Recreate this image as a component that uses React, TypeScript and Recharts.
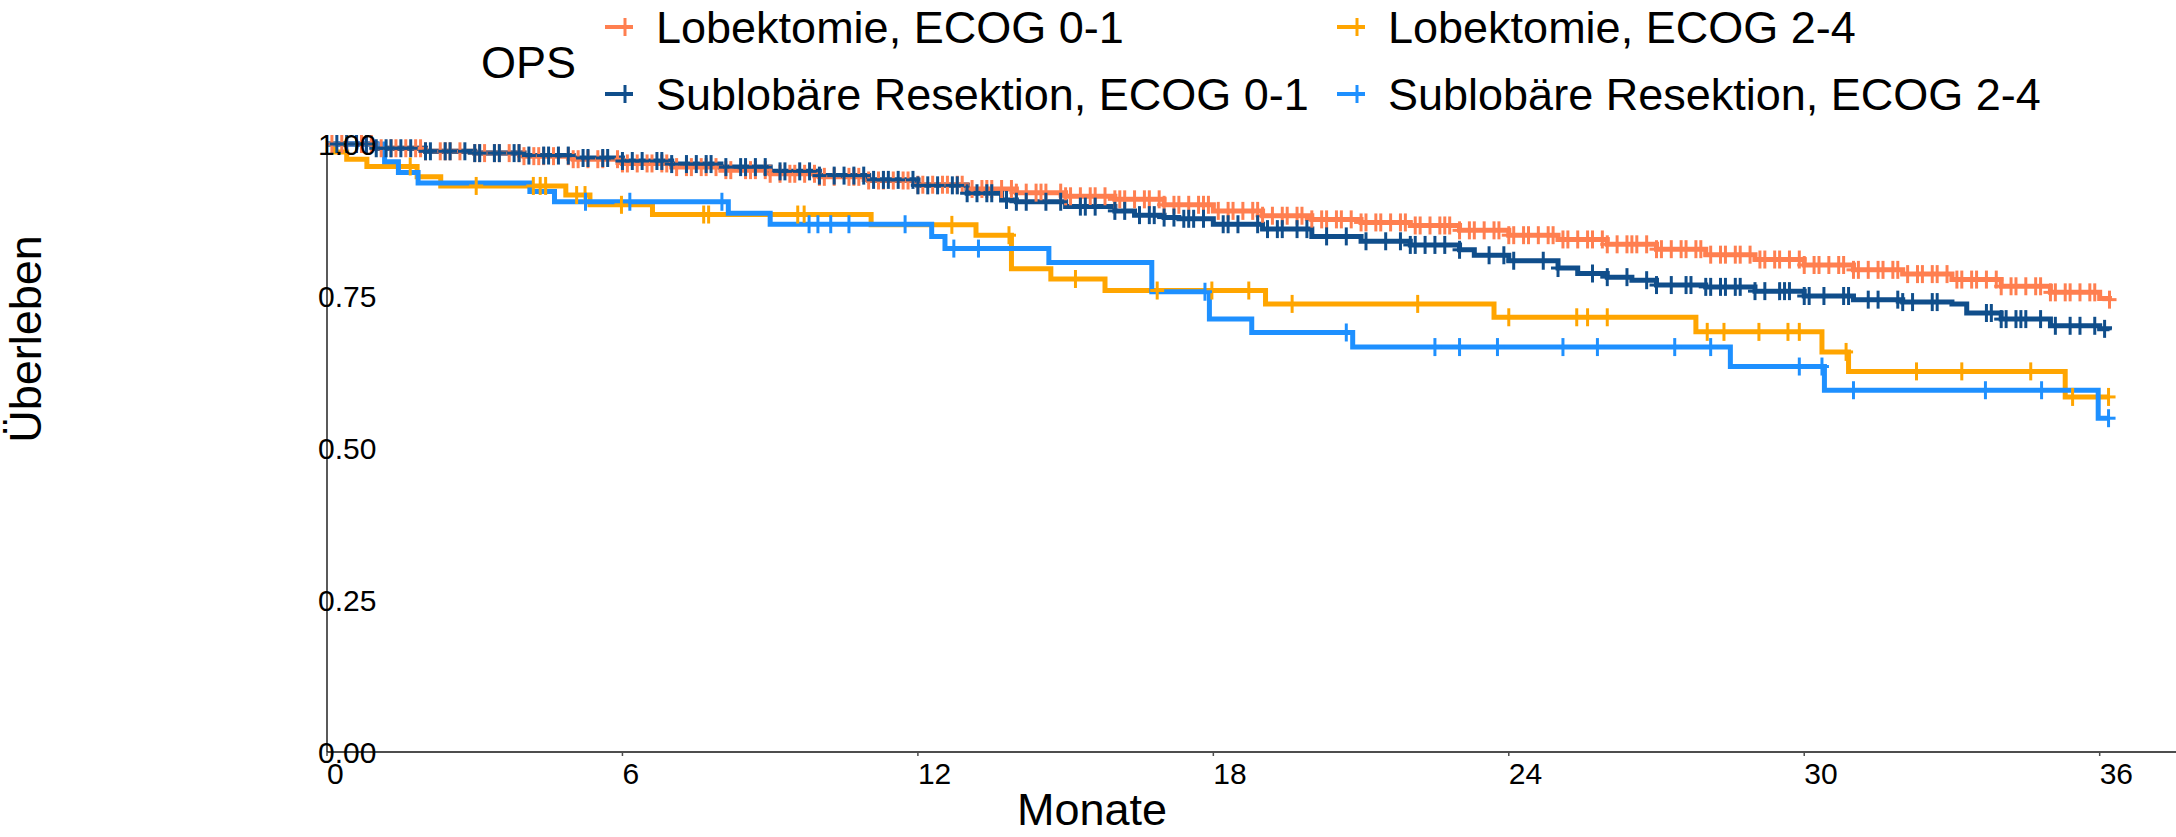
import React from "react";
import { ComposedChart, Line, Scatter, XAxis, YAxis } from "recharts";

// Kaplan-Meier Stufen (Monat, Überleben)
const lobEcog01 = [
  [0, 1.0], [1, 0.993], [2, 0.988], [3, 0.985], [4, 0.98], [5, 0.975], [6, 0.968],
  [7, 0.962], [8, 0.957], [9, 0.951], [10, 0.946], [11, 0.94], [12, 0.933], [13, 0.926],
  [14, 0.92], [15, 0.914], [16, 0.909], [17, 0.9], [18, 0.89], [19, 0.882], [20, 0.876],
  [21, 0.871], [22, 0.866], [23, 0.858], [24, 0.85], [25, 0.843], [26, 0.835], [27, 0.827],
  [28, 0.818], [29, 0.81], [30, 0.801], [31, 0.793], [32, 0.786], [33, 0.777], [34, 0.766],
  [35, 0.756], [36, 0.746], [36.2, 0.744],
];
const subEcog01 = [
  [0, 1.0], [1, 0.993], [2, 0.988], [3, 0.985], [4, 0.981], [5, 0.977], [6, 0.972],
  [7, 0.967], [8, 0.962], [9, 0.955], [10, 0.948], [11, 0.941], [12, 0.932], [13, 0.919],
  [13.7, 0.908], [14, 0.905], [15, 0.897], [16, 0.89], [16.4, 0.883], [17, 0.879],
  [17.3, 0.877], [18, 0.868], [19, 0.86], [20, 0.848], [21, 0.84], [22, 0.834], [23, 0.826],
  [23.3, 0.817], [24, 0.808], [25, 0.796], [25.4, 0.787], [26, 0.781], [26.5, 0.776],
  [27, 0.768], [28, 0.765], [29, 0.758], [30, 0.75], [31, 0.744], [32, 0.74], [33, 0.737],
  [33.3, 0.722], [34, 0.712], [35, 0.701], [36, 0.696], [36.2, 0.695],
];
const lobEcog24 = [
  [0, 1.0], [0.15, 0.987], [0.4, 0.975], [0.81, 0.963], [1.83, 0.946], [2.31, 0.931],
  [4.85, 0.916], [5.34, 0.9], [6.61, 0.884], [11.05, 0.867], [13.18, 0.85], [13.9, 0.795],
  [14.7, 0.778], [15.8, 0.759], [19.06, 0.737], [23.7, 0.715], [27.8, 0.691], [30.36, 0.658],
  [30.9, 0.626], [35.3, 0.584], [36.18, 0.584],
];
const subEcog24 = [
  [0, 1.0], [1.17, 0.971], [1.45, 0.953], [1.85, 0.936], [4.12, 0.922], [4.62, 0.905],
  [8.15, 0.886], [9.0, 0.868], [12.28, 0.848], [12.55, 0.828], [14.66, 0.805],
  [16.75, 0.757], [17.92, 0.712], [18.78, 0.69], [20.83, 0.666], [28.5, 0.634],
  [30.41, 0.595], [35.97, 0.549], [36.18, 0.549],
];

// zensierte Fälle (Monat)
const lobEcog01Cens = [
  0.1, 0.3, 0.4, 0.7, 0.8, 0.9, 1.1, 1.3, 1.4, 1.6, 1.8, 1.9, 2.0, 2.3, 2.4, 2.5, 2.7, 3.0,
  3.1, 3.2, 3.4, 3.5, 3.7, 3.9, 4.0, 4.2, 4.3, 4.4, 4.6, 4.9, 5.0, 5.1, 5.3, 5.5, 5.6, 5.9,
  6.0, 6.1, 6.3, 6.5, 6.6, 6.8, 6.9, 7.1, 7.3, 7.4, 7.6, 7.7, 7.9, 8.1, 8.2, 8.5, 8.6, 8.7,
  8.9, 9.0, 9.2, 9.4, 9.5, 9.7, 9.9, 10.0, 10.1, 10.3, 10.6, 10.7, 10.8, 11.0, 11.2, 11.3,
  11.5, 11.7, 11.8, 12.0, 12.1, 12.3, 12.5, 12.6, 12.8, 12.9, 13.1, 13.3, 13.4, 13.5, 13.7,
  13.9, 14.0, 14.2, 14.4, 14.5, 14.6, 14.9, 15.0, 15.1, 15.3, 15.5, 15.6, 15.8, 16.0, 16.1,
  16.2, 16.4, 16.6, 16.7, 16.9, 17.0, 17.2, 17.3, 17.5, 17.7, 17.8, 17.9, 18.1, 18.3, 18.4,
  18.6, 18.8, 18.9, 19.0, 19.2, 19.4, 19.5, 19.7, 19.8, 20.0, 20.2, 20.3, 20.5, 20.6, 20.8,
  21.0, 21.1, 21.3, 21.4, 21.6, 21.8, 21.9, 22.1, 22.2, 22.4, 22.6, 22.7, 22.8, 23.0, 23.2,
  23.3, 23.5, 23.7, 23.8, 24.0, 24.1, 24.3, 24.4, 24.6, 24.8, 24.9, 25.1, 25.2, 25.4, 25.6,
  25.7, 25.9, 26.0, 26.2, 26.4, 26.5, 26.6, 26.8, 27.0, 27.1, 27.3, 27.5, 27.6, 27.8, 27.9,
  28.1, 28.3, 28.4, 28.6, 28.7, 28.9, 29.1, 29.2, 29.4, 29.5, 29.7, 29.9, 30.0, 30.2, 30.3,
  30.5, 30.7, 30.8, 31.0, 31.1, 31.3, 31.5, 31.6, 31.8, 31.9, 32.1, 32.3, 32.4, 32.6, 32.7,
  32.9, 33.1, 33.2, 33.4, 33.5, 33.7, 33.9, 34.0, 34.2, 34.3, 34.5, 34.7, 34.8, 35.0, 35.1,
  35.3, 35.4, 35.6, 35.8, 35.9, 36.2,
];
const subEcog01Cens = [
  0.2, 0.4, 0.6, 0.8, 1.0, 1.2, 1.3, 1.5, 1.7, 2.0, 2.1, 2.4, 2.5, 2.8, 3.0, 3.1, 3.4, 3.5,
  3.8, 3.9, 4.1, 4.4, 4.5, 4.7, 4.9, 5.2, 5.3, 5.6, 5.7, 6.0, 6.2, 6.4, 6.7, 6.8, 7.0, 7.3,
  7.5, 7.7, 7.8, 8.1, 8.4, 8.5, 8.7, 8.9, 9.2, 9.3, 9.6, 9.8, 10.0, 10.3, 10.5, 10.7, 10.9,
  11.1, 11.3, 11.4, 11.6, 11.9, 12.0, 12.2, 12.4, 12.7, 12.8, 13.0, 13.2, 13.4, 13.5, 13.8,
  14.0, 14.2, 14.6, 14.9, 15.3, 15.4, 15.6, 16.0, 16.2, 16.5, 16.7, 16.8, 17.0, 17.2, 17.4,
  17.5, 17.6, 17.8, 18.2, 18.3, 18.5, 18.9, 19.1, 19.3, 19.4, 19.7, 19.9, 20.3, 20.7, 21.1,
  21.5, 21.8, 22.0, 22.1, 22.3, 22.5, 22.7, 23.0, 23.6, 23.9, 24.1, 24.7, 25.0, 25.7, 26.0,
  26.4, 26.8, 27.0, 27.3, 27.6, 27.7, 28.0, 28.1, 28.3, 28.4, 28.6, 28.7, 29.0, 29.2, 29.5,
  29.6, 29.7, 30.0, 30.1, 30.4, 30.8, 30.9, 31.3, 31.5, 31.9, 32.0, 32.2, 32.6, 32.7, 33.7,
  33.8, 34.0, 34.1, 34.3, 34.4, 34.5, 34.8, 35.1, 35.4, 35.6, 35.9, 36.1,
];
const lobEcog24Cens = [
  1.69, 3.03, 4.19, 4.33, 4.44, 5.07, 5.24, 5.98, 7.65, 7.75, 9.56, 9.69, 12.69, 13.85,
  15.2, 16.86, 17.97, 18.72, 19.6, 22.15, 24.0, 25.38, 25.6, 26.0, 28.03, 28.37, 29.08,
  29.67, 29.9, 30.85, 32.28, 33.2, 34.6, 35.45, 36.18,
];
const subEcog24Cens = [
  5.25, 6.15, 8.02, 9.79, 9.97, 10.23, 10.6, 11.74, 12.73, 13.23, 17.83, 20.7, 22.5, 23.0,
  23.77, 25.1, 25.8, 27.37, 28.1, 29.9, 30.36, 31.0, 33.68, 34.82, 36.18,
];

const xTicks = [0, 6, 12, 18, 24, 30, 36];
const yTicks = [0, 0.25, 0.5, 0.75, 1];

const FONT = "'Liberation Sans', Arial, Helvetica, sans-serif";

const groups = [
  { name: "Lobektomie, ECOG 0-1", color: "#FF7F50", curve: lobEcog01, cens: lobEcog01Cens },
  { name: "Sublobäre Resektion, ECOG 0-1", color: "#104E8B", curve: subEcog01, cens: subEcog01Cens },
  { name: "Lobektomie, ECOG 2-4", color: "#FFA500", curve: lobEcog24, cens: lobEcog24Cens },
  { name: "Sublobäre Resektion, ECOG 2-4", color: "#1E90FF", curve: subEcog24, cens: subEcog24Cens },
];

const toRows = (curve: number[][]) => curve.map(([t, s]) => ({ t, s }));

// Wert der Stufenfunktion zum Zeitpunkt t
const survAt = (curve: number[][], t: number) => {
  let s = curve[0][1];
  for (const [ct, cs] of curve) if (ct <= t) s = cs;
  return s;
};

const makeCross = (color: string) => (props: any) => {
  const { cx, cy } = props;
  if (cx == null || cy == null) return <g />;
  return (
    <g>
      <line x1={cx - 7} x2={cx + 7} y1={cy} y2={cy} stroke={color} strokeWidth={3} />
      <line x1={cx} x2={cx} y1={cy - 9} y2={cy + 9} stroke={color} strokeWidth={3} />
    </g>
  );
};

const XTick = (props: any) => (
  <text x={props.x} y={784} textAnchor="start" fontSize={30} fontFamily={FONT} fill="#000">
    {props.payload.value}
  </text>
);

const YTick = (props: any) => (
  <text x={318} y={props.y} dy="0.36em" textAnchor="start" fontSize={30} fontFamily={FONT} fill="#000">
    {Number(props.payload.value).toFixed(2)}
  </text>
);

// Legende im ggplot-Stil: 2 Spalten
const legendItems = [
  { g: groups[0], x: 605, y: 27 },
  { g: groups[2], x: 1337, y: 27 },
  { g: groups[1], x: 605, y: 94 },
  { g: groups[3], x: 1337, y: 94 },
];

export default function App() {
  return (
    <div style={{ position: "absolute", left: 0, top: 0, width: 2176, height: 837, background: "#fff" }}>
      <ComposedChart
        width={2176}
        height={837}
        margin={{ top: 144, right: 0, bottom: 55, left: 267 }}
      >
        <XAxis
          dataKey="t"
          type="number"
          domain={[0, 37.55]}
          ticks={xTicks}
          allowDataOverflow
          height={30}
          axisLine={{ stroke: "#4d4d4d", strokeWidth: 2 }}
          tickLine={{ stroke: "#4d4d4d", strokeWidth: 1.5 }}
          tickSize={4}
          tick={<XTick />}
        />
        <YAxis
          type="number"
          domain={[0, 1]}
          ticks={yTicks}
          width={60}
          axisLine={{ stroke: "#000", strokeWidth: 1.3 }}
          tickLine={false}
          tickSize={0}
          tick={<YTick />}
        />
        {groups.map((g) => (
          <Line
            key={g.name}
            data={toRows(g.curve)}
            dataKey="s"
            type="stepAfter"
            stroke={g.color}
            strokeWidth={5}
            dot={false}
            activeDot={false}
            isAnimationActive={false}
          />
        ))}
        {groups.map((g) => (
          <Scatter
            key={g.name + "-c"}
            data={g.cens.map((t) => ({ t, s: survAt(g.curve, t) }))}
            dataKey="s"
            shape={makeCross(g.color)}
            isAnimationActive={false}
          />
        ))}
      </ComposedChart>
      <svg
        width={2176}
        height={837}
        style={{ position: "absolute", left: 0, top: 0, pointerEvents: "none" }}
        fontFamily={FONT}
      >
        <text x={25} y={339} fontSize={45} textAnchor="middle" dominantBaseline="central" transform="rotate(-90 25 339)">
          Überleben
        </text>
        <text x={1092} y={825} fontSize={45} textAnchor="middle">
          Monate
        </text>
        <text x={481} y={78} fontSize={45}>
          OPS
        </text>
        {legendItems.map(({ g, x, y }) => (
          <g key={g.name}>
            <line x1={x} x2={x + 28} y1={y} y2={y} stroke={g.color} strokeWidth={4} />
            <line x1={x + 20} x2={x + 20} y1={y - 9} y2={y + 9} stroke={g.color} strokeWidth={3} />
            <text x={x + 51} y={y + 16} fontSize={45}>
              {g.name}
            </text>
          </g>
        ))}
      </svg>
    </div>
  );
}
